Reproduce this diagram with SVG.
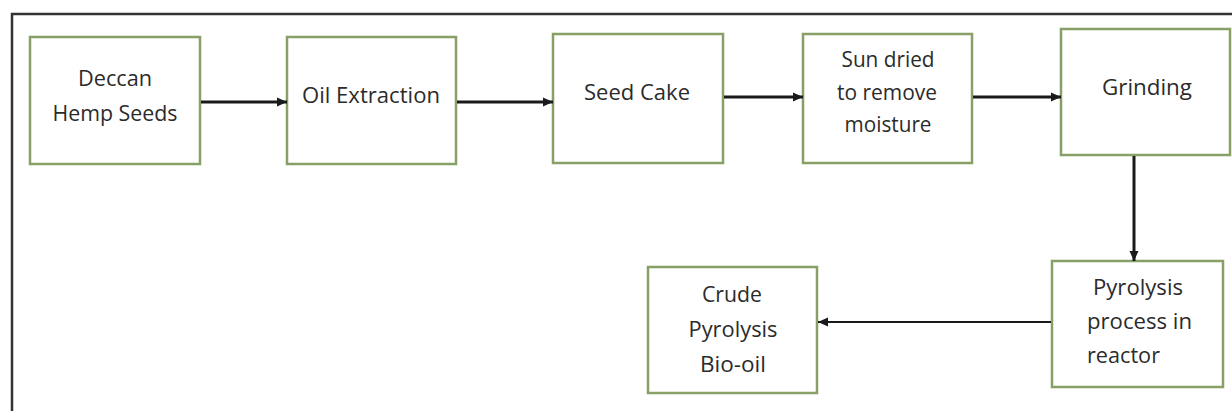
<svg xmlns="http://www.w3.org/2000/svg" width="1232" height="411" viewBox="0 0 1232 411">
<style>
.box{fill:#ffffff;stroke:#88a066;stroke-width:2.5}
.lbl{font-family:"Open Sans","Liberation Sans",sans-serif;font-size:21px;fill:#2b2b2b;text-anchor:middle}
.lft{text-anchor:start}
.con{stroke:#1a1a1a;stroke-width:3;fill:none;marker-end:url(#ah)}
.thin{stroke-width:2}
.frame{stroke:#333333;stroke-width:2.5;fill:none}
</style>
<defs>
<marker id="ah" markerUnits="userSpaceOnUse" markerWidth="10" markerHeight="10" viewBox="0 0 10 10" refX="10" refY="5" orient="auto">
<path d="M0,0.5 L10,5 L0,9.5 Z" fill="#1a1a1a"/>
</marker>
</defs>
<rect width="1232" height="411" fill="#ffffff"/>
<path class="frame" d="M1232,14 H12 V411"/>
<g id="n1">
<rect class="box" x="30" y="37" width="170" height="127"/>
<text class="lbl" x="115" y="86" textLength="74" lengthAdjust="spacingAndGlyphs">Deccan</text>
<text class="lbl" x="115" y="121" textLength="125" lengthAdjust="spacingAndGlyphs">Hemp Seeds</text>
</g>
<g id="n2">
<rect class="box" x="287" y="37" width="169" height="127"/>
<text class="lbl" x="371" y="103" textLength="138" lengthAdjust="spacingAndGlyphs">Oil Extraction</text>
</g>
<g id="n3">
<rect class="box" x="553" y="34" width="170" height="129"/>
<text class="lbl" x="637" y="100" textLength="106" lengthAdjust="spacingAndGlyphs">Seed Cake</text>
</g>
<g id="n4">
<rect class="box" x="803" y="34" width="169" height="129"/>
<text class="lbl" x="888" y="67" textLength="93" lengthAdjust="spacingAndGlyphs">Sun dried</text>
<text class="lbl" x="887" y="100" textLength="100" lengthAdjust="spacingAndGlyphs">to remove</text>
<text class="lbl" x="888" y="132" textLength="87" lengthAdjust="spacingAndGlyphs">moisture</text>
</g>
<g id="n5">
<rect class="box" x="1061" y="29" width="169" height="126"/>
<text class="lbl" x="1147" y="95" textLength="90" lengthAdjust="spacingAndGlyphs">Grinding</text>
</g>
<g id="n6">
<rect class="box" x="1052" y="261" width="171" height="126"/>
<text class="lbl lft" x="1093" y="295" textLength="90" lengthAdjust="spacingAndGlyphs">Pyrolysis</text>
<text class="lbl lft" x="1087" y="329" textLength="105" lengthAdjust="spacingAndGlyphs">process in</text>
<text class="lbl lft" x="1087" y="363" textLength="73" lengthAdjust="spacingAndGlyphs">reactor</text>
</g>
<g id="n7">
<rect class="box" x="648" y="267" width="169" height="126"/>
<text class="lbl" x="732" y="302" textLength="60" lengthAdjust="spacingAndGlyphs">Crude</text>
<text class="lbl" x="733" y="337" textLength="89" lengthAdjust="spacingAndGlyphs">Pyrolysis</text>
<text class="lbl" x="733" y="372" textLength="66" lengthAdjust="spacingAndGlyphs">Bio-oil</text>
</g>
<g id="connectors">
<line class="con" x1="201" y1="102" x2="287" y2="102"/>
<line class="con" x1="457" y1="102" x2="553" y2="102"/>
<line class="con" x1="724" y1="97" x2="803" y2="97"/>
<line class="con" x1="973" y1="97" x2="1061" y2="97"/>
<line class="con" x1="1134" y1="156" x2="1134" y2="261"/>
<line class="con thin" x1="1051" y1="322" x2="818" y2="322"/>
</g>
</svg>
